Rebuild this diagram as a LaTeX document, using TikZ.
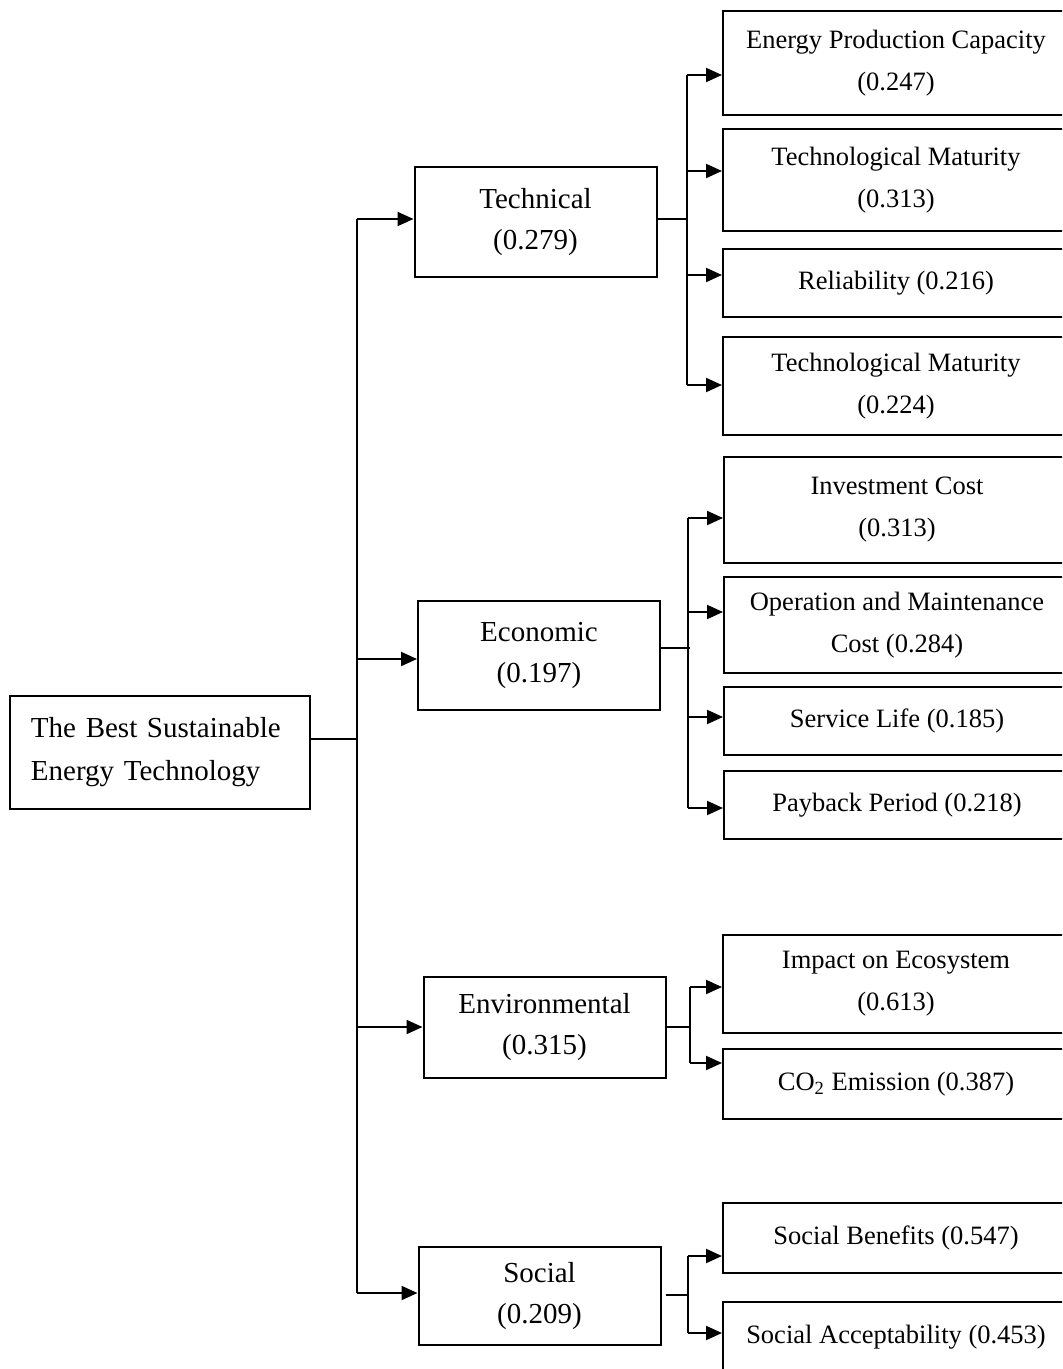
\documentclass[tikz,border=0pt]{standalone}
\usepackage{fontspec}
\setmainfont{Liberation Serif}
\usetikzlibrary{arrows.meta}

\begin{document}
\begin{tikzpicture}[x=0.5pt,y=-0.5pt,line width=1pt,
  crit/.style={draw,minimum width=121pt,align=center,font=\fontsize{14.5}{20.5}\selectfont},
  sub/.style={draw,minimum width=173pt,align=center,font=\fontsize{13.25}{21}\selectfont},
  link/.style={-{Triangle[length=8pt,width=7pt]}}]

\useasboundingbox (0,0) rectangle (1062,1369);
\clip (0,0) rectangle (1062,1369);

\node[draw,minimum width=150pt,minimum height=56.5pt,text width=129pt,align=left,font=\fontsize{14.5}{21.5}\selectfont] (root) at (160,752.5) {The Best Sustainable\\Energy Technology};

\node[crit,minimum height=55pt] (tech) at (535.5,222) {Technical\\(0.279)};
\node[crit,minimum height=54.5pt] (econ) at (539,655.5) {Economic\\(0.197)};
\node[crit,minimum height=50.5pt] (env) at (544.5,1027.5) {Environmental\\(0.315)};
\node[crit,minimum height=49pt] (soc) at (539.5,1296) {Social\\(0.209)};

\node[sub,minimum height=52pt] (t1) at (896,63) {Energy Production Capacity\\(0.247)};
\node[sub,minimum height=51pt] (t2) at (896,180) {Technological Maturity\\(0.313)};
\node[sub,minimum height=34pt] (t3) at (896,283) {Reliability (0.216)};
\node[sub,minimum height=49pt] (t4) at (896,386) {Technological Maturity\\(0.224)};

\node[sub,minimum height=53pt] (e1) at (897,510) {Investment Cost\\(0.313)};
\node[sub,minimum height=48pt] (e2) at (897,625) {Operation and Maintenance\\Cost (0.284)};
\node[sub,minimum height=34pt] (e3) at (897,721) {Service Life (0.185)};
\node[sub,minimum height=34pt] (e4) at (897,805) {Payback Period (0.218)};

\node[sub,minimum height=49pt] (v1) at (896,984) {Impact on Ecosystem\\(0.613)};
\node[sub,minimum height=35pt] (v2) at (896,1084) {CO\textsubscript{2} Emission (0.387)};

\node[sub,minimum height=35pt] (s1) at (896,1238) {Social Benefits (0.547)};
\node[sub,minimum height=35pt] (s2) at (896,1337) {Social Acceptability (0.453)};

% main trunk
\coordinate (j0) at (357,739);
\coordinate (jt) at (357,219);
\coordinate (je) at (357,659);
\coordinate (jv) at (357,1027);
\coordinate (js) at (357,1293);
\draw (root.east |- j0) -- (j0);
\draw (jt) -- (js);
\foreach \j/\n in {jt/tech,je/econ,jv/env,js/soc}
  \draw[link] (\j) -- (\j -| \n.west);

% technical
\coordinate (bt) at (687,219);
\coordinate (bt1) at (687,75);
\coordinate (bt2) at (687,171);
\coordinate (bt3) at (687,275);
\coordinate (bt4) at (687,385);
\draw (tech.east |- bt) -- (bt);
\draw (bt1) -- (bt4);
\foreach \b/\n in {bt1/t1,bt2/t2,bt3/t3,bt4/t4}
  \draw[link] (\b) -- (\b -| \n.west);

% economic
\coordinate (be) at (690,648);
\coordinate (be1) at (688,518);
\coordinate (be2) at (688,612);
\coordinate (be3) at (688,717);
\coordinate (be4) at (688,808);
\draw (econ.east |- be) -- (be);
\draw (be1) -- (be4);
\foreach \b/\n in {be1/e1,be2/e2,be3/e3,be4/e4}
  \draw[link] (\b) -- (\b -| \n.west);

% environmental
\coordinate (bv) at (690,1027);
\coordinate (bv1) at (690,987);
\coordinate (bv2) at (690,1063);
\draw (env.east |- bv) -- (bv);
\draw (bv1) -- (bv2);
\foreach \b/\n in {bv1/v1,bv2/v2}
  \draw[link] (\b) -- (\b -| \n.west);

% social
\coordinate (bs) at (688,1295);
\coordinate (bs1) at (688,1256);
\coordinate (bs2) at (688,1333);
\draw ([xshift=2pt]soc.east |- bs) -- (bs);
\draw (bs1) -- (bs2);
\foreach \b/\n in {bs1/s1,bs2/s2}
  \draw[link] (\b) -- (\b -| \n.west);

\end{tikzpicture}
\end{document}
